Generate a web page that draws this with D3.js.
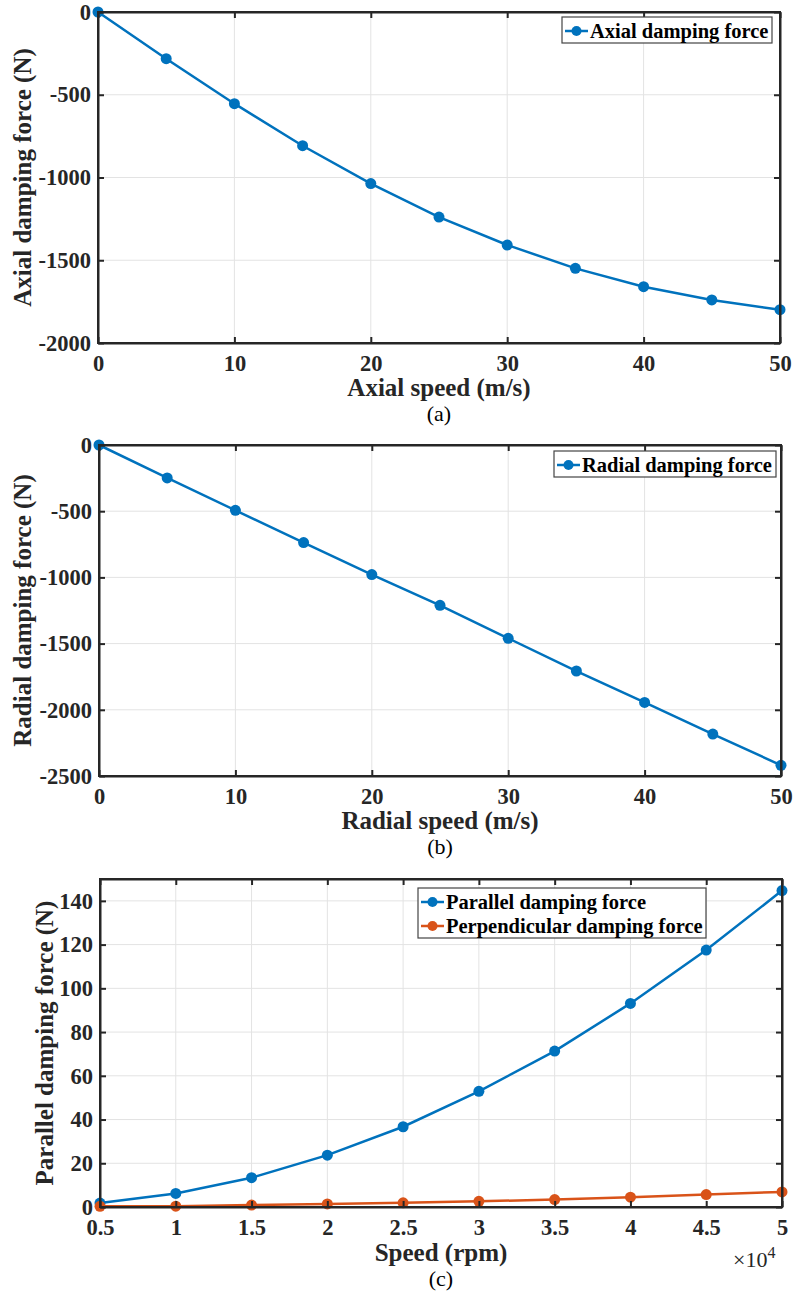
<!DOCTYPE html>
<html><head><meta charset="utf-8">
<script src="https://cdn.jsdelivr.net/npm/d3@7"></script>
<style>body{margin:0;background:#fff}svg{display:block}</style>
</head><body>
<svg id="c" width="793" height="1299"></svg>
<script>
const speedA = [0,5,10,15,20,25,30,35,40,45,50];
const axialForce = [0,-282,-554,-808,-1037,-1239,-1408,-1549,-1660,-1740,-1799];
const speedB = [0,5,10,15,20,25,30,35,40,45,50];
const radialForce = [0,-249,-493,-737,-979,-1211,-1460,-1707,-1944,-2183,-2419];
const speedC = [5000,10000,15000,20000,25000,30000,35000,40000,45000,50000];
const parallelForce = [1.8,6.2,13.4,23.7,36.7,52.9,71.3,93.1,117.5,144.7];
const perpForce = [0.3,0.4,0.9,1.4,1.9,2.6,3.4,4.5,5.7,6.9];
const ticksXA = [0,10,20,30,40,50];
const ticksYA = [0,-500,-1000,-1500,-2000];
const ticksYB = [0,-500,-1000,-1500,-2000,-2500];
const ticksXC = [5000,10000,15000,20000,25000,30000,35000,40000,45000,50000];
const ticksYC = [0,20,40,60,80,100,120,140];

const svg = d3.select('#c');
const FONT = '"Liberation Serif","Times New Roman",serif';
const AX = '#262626', BLUE = '#0072BD', ORANGE = '#D95319';

function panel(o){
  const g = svg.append('g');
  const x = d3.scaleLinear().domain(o.xd).range([o.l, o.r]);
  const y = d3.scaleLinear().domain(o.yd).range([o.b, o.t]);
  g.append('g').selectAll('line').data(o.xt).join('line')
    .attr('x1',d=>x(d)).attr('x2',d=>x(d)).attr('y1',o.t).attr('y2',o.b)
    .attr('stroke','#e3e3e3').attr('stroke-width',1);
  g.append('g').selectAll('line').data(o.yt).join('line')
    .attr('y1',d=>y(d)).attr('y2',d=>y(d)).attr('x1',o.l).attr('x2',o.r)
    .attr('stroke','#e3e3e3').attr('stroke-width',1);
  o.series.forEach(s=>{
    const pts = o.xv.map((v,i)=>[v, s.v[i]]);
    g.append('path').datum(pts)
      .attr('d', d3.line().x(d=>x(d[0])).y(d=>y(d[1])))
      .attr('fill','none').attr('stroke',s.c).attr('stroke-width',2.5);
    g.append('g').selectAll('circle').data(pts).join('circle')
      .attr('cx',d=>x(d[0])).attr('cy',d=>y(d[1])).attr('r',5.5).attr('fill',s.c);
  });
  const fmtX = o.fmtX || (d=>String(d));
  const bx = g.append('g').attr('transform',`translate(0,${o.b})`)
    .call(d3.axisBottom(x).tickValues(o.xt).tickSizeInner(-6).tickSizeOuter(0).tickPadding(12).tickFormat(fmtX));
  const tx = g.append('g').attr('transform',`translate(0,${o.t})`)
    .call(d3.axisTop(x).tickValues(o.xt).tickSizeInner(-6).tickSizeOuter(0).tickFormat(''));
  const ly = g.append('g').attr('transform',`translate(${o.l},0)`)
    .call(d3.axisLeft(y).tickValues(o.yt).tickSizeInner(-6).tickSizeOuter(0).tickPadding(7).tickFormat(d=>String(d)));
  const ry = g.append('g').attr('transform',`translate(${o.r},0)`)
    .call(d3.axisRight(y).tickValues(o.yt).tickSizeInner(-6).tickSizeOuter(0).tickFormat(''));
  [bx,tx,ly,ry].forEach(a=>{
    a.select('.domain').attr('stroke',AX).attr('stroke-width',2);
    a.selectAll('.tick line').attr('stroke',AX).attr('stroke-width',2);
    a.selectAll('text').attr('font-family',FONT).attr('font-weight','bold')
      .attr('font-size',22.5).attr('fill',AX);
  });
  bx.selectAll('text').attr('dy','0.71em');
  g.append('rect').attr('x',o.l).attr('y',o.t).attr('width',o.r-o.l).attr('height',o.b-o.t)
    .attr('fill','none').attr('stroke',AX).attr('stroke-width',2);
  g.append('text').attr('x',(o.l+o.r)/2).attr('y',o.b+o.xlDy).attr('text-anchor','middle')
    .attr('font-family',FONT).attr('font-weight','bold').attr('font-size',25).attr('fill',AX).text(o.xl);
  g.append('text').attr('x',(o.l+o.r)/2).attr('y',o.b+o.capDy).attr('text-anchor','middle')
    .attr('font-family',FONT).attr('font-size',22).attr('fill','#000').text(o.cap);
  g.append('text').attr('transform',`translate(${o.ylx},${(o.t+o.b)/2}) rotate(-90)`)
    .attr('text-anchor','middle').attr('font-family',FONT).attr('font-weight','bold')
    .attr('font-size',25).attr('fill',AX).text(o.yl);
  const lg = g.append('g');
  lg.append('rect').attr('x',o.lg.x).attr('y',o.lg.y).attr('width',o.lg.w).attr('height',o.lg.h)
    .attr('fill','#fff').attr('stroke','#444').attr('stroke-width',1.2);
  o.series.forEach((s,i)=>{
    const cy = o.lg.y + 14 + i*24;
    lg.append('line').attr('x1',o.lg.x+3).attr('x2',o.lg.x+26).attr('y1',cy).attr('y2',cy)
      .attr('stroke',s.c).attr('stroke-width',2.5);
    lg.append('circle').attr('cx',o.lg.x+14.5).attr('cy',cy).attr('r',5).attr('fill',s.c);
    lg.append('text').attr('x',o.lg.x+28).attr('y',cy).attr('dy','0.35em')
      .attr('font-family',FONT).attr('font-weight','bold').attr('font-size',20.5).attr('fill','#000').text(s.n);
  });
  return g;
}

panel({xd:[0,50], yd:[-2000,0], l:98, r:780, t:12, b:343, xv:speedA, xt:ticksXA, yt:ticksYA,
  series:[{v:axialForce,c:BLUE,n:'Axial damping force'}],
  xl:'Axial speed (m/s)', cap:'(a)', yl:'Axial damping force (N)', ylx:31, xlDy:53, capDy:78,
  lg:{x:562,y:17,w:210,h:26}});

panel({xd:[0,50], yd:[-2500,0], l:99, r:781, t:445, b:776, xv:speedB, xt:ticksXA, yt:ticksYB,
  series:[{v:radialForce,c:BLUE,n:'Radial damping force'}],
  xl:'Radial speed (m/s)', cap:'(b)', yl:'Radial damping force (N)', ylx:31, xlDy:53, capDy:78,
  lg:{x:554,y:451,w:222,h:26}});

const pc = panel({xd:[5000,50000], yd:[0,150], l:100, r:782, t:879, b:1207, xv:speedC, xt:ticksXC, yt:ticksYC,
  series:[{v:parallelForce,c:BLUE,n:'Parallel damping force'},{v:perpForce,c:ORANGE,n:'Perpendicular damping force'}],
  xl:'Speed (rpm)', cap:'(c)', yl:'Parallel damping force (N)', ylx:53, fmtX:d=>String(d/10000), xlDy:54, capDy:79,
  lg:{x:418,y:888,w:288,h:50}});
const ex = pc.append('text').attr('x',733).attr('y',1267).attr('text-anchor','start')
  .attr('font-family',FONT).attr('font-size',22).attr('fill',AX);
ex.append('tspan').text('×10');
ex.append('tspan').attr('dy',-9).attr('font-size',16).text('4');
</script>
</body></html>
